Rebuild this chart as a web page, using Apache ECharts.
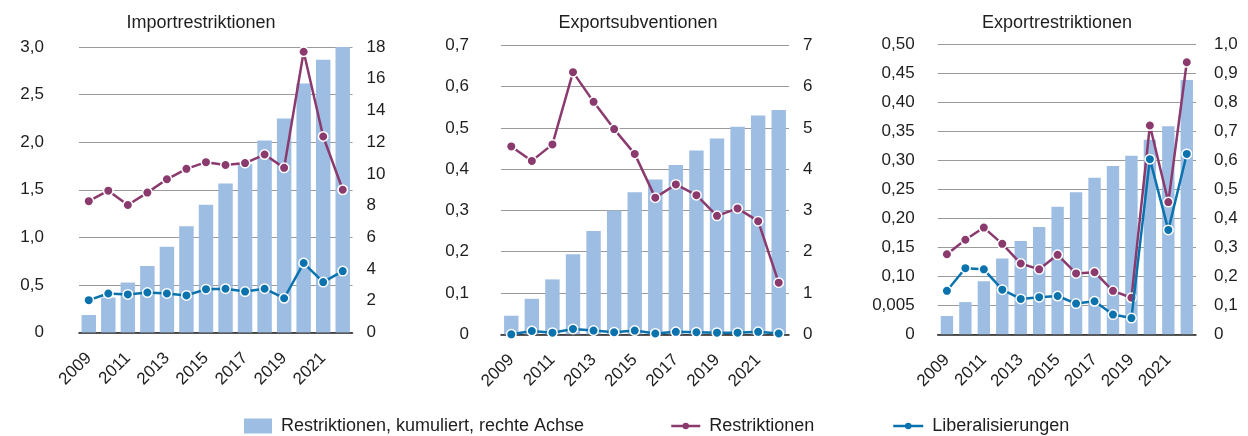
<!DOCTYPE html>
<html>
<head>
<meta charset="utf-8">
<script src="https://cdn.jsdelivr.net/npm/echarts@6/dist/echarts.min.js"></script>
<style>
html,body{margin:0;padding:0;background:#fff;}
#chart{width:1248px;height:436px;}
</style>
</head>
<body>
<div id="chart"></div>
<script>
const years = ['2009','2010','2011','2012','2013','2014','2015','2016','2017','2018','2019','2020','2021','2022'];

// Importrestriktionen
const impCum = [1.1, 2.2, 3.15, 4.2, 5.4, 6.7, 8.05, 9.4, 10.6, 12.1, 13.5, 15.7, 17.2, 18.0];
const impRes = [1.38, 1.49, 1.34, 1.47, 1.61, 1.72, 1.79, 1.76, 1.78, 1.87, 1.73, 2.95, 2.06, 1.50];
const impLib = [0.34, 0.41, 0.40, 0.42, 0.41, 0.39, 0.455, 0.46, 0.43, 0.46, 0.36, 0.73, 0.53, 0.645];

// Exportsubventionen
const subCum = [0.45, 0.86, 1.33, 1.94, 2.5, 3.0, 3.44, 3.75, 4.1, 4.45, 4.74, 5.03, 5.3, 5.43];
const subRes = [0.455, 0.42, 0.46, 0.635, 0.563, 0.497, 0.437, 0.331, 0.363, 0.337, 0.287, 0.305, 0.274, 0.125];
const subLib = [0.0, 0.008, 0.004, 0.013, 0.009, 0.005, 0.009, 0.002, 0.006, 0.005, 0.004, 0.004, 0.006, 0.002];

// Exportrestriktionen
const expCum = [0.063, 0.111, 0.183, 0.261, 0.322, 0.37, 0.44, 0.49, 0.54, 0.58, 0.616, 0.671, 0.717, 0.877];
const expRes = [0.138, 0.163, 0.184, 0.156, 0.122, 0.112, 0.137, 0.105, 0.107, 0.075, 0.063, 0.36, 0.228, 0.469];
const expLib = [0.075, 0.114, 0.112, 0.077, 0.061, 0.064, 0.066, 0.053, 0.057, 0.034, 0.028, 0.302, 0.18, 0.311];

// Tick labels
const impLeftTicks = ['0','0,5','1,0','1,5','2,0','2,5','3,0'];
const impRightTicks = ['0','2','4','6','8','10','12','14','16','18'];
const subLeftTicks = ['0','0,1','0,2','0,3','0,4','0,5','0,6','0,7'];
const subRightTicks = ['0','1','2','3','4','5','6','7'];
const expLeftTicks = ['0','0,005','0,10','0,15','0,20','0,25','0,30','0,35','0,40','0,45','0,50'];
const expRightTicks = ['0','0,1','0,2','0,3','0,4','0,5','0,6','0,7','0,8','0,9','1,0'];

const titles = ['Importrestriktionen','Exportsubventionen','Exportrestriktionen'];
const legendNames = ['Restriktionen, kumuliert, rechte Achse','Restriktionen','Liberalisierungen'];

const FONT = '"Liberation Sans", Arial, Helvetica, sans-serif';
const BAR = '#9dbde3';
const PURPLE = '#8b3a6e';
const BLUE = '#0a72ad';
const TXT = '#1e1e1e';

const grids = [
  {left: 79, top: 47, width: 273.5, height: 285.5},
  {left: 501, top: 45.3, width: 288, height: 289},
  {left: 937.7, top: 44.3, width: 258.3, height: 290}
];
const axes = [
  {lmax: 3, lint: 0.5, lt: impLeftTicks, rmax: 18, rint: 2, rt: impRightTicks, lm: 35, rm: 14},
  {lmax: 0.7, lint: 0.1, lt: subLeftTicks, rmax: 7, rint: 1, rt: subRightTicks, lm: 32, rm: 14},
  {lmax: 0.5, lint: 0.05, lt: expLeftTicks, rmax: 1, rint: 0.1, rt: expRightTicks, lm: 23, rm: 18}
];
const data = [
  [impCum, impRes, impLib],
  [subCum, subRes, subLib],
  [expCum, expRes, expLib]
];
const gaps = ['26%','30%','33%'];

const xAxis = [], yAxis = [], series = [];
for (let g = 0; g < 3; g++) {
  xAxis.push({
    type: 'category', gridIndex: g, data: years, boundaryGap: true,
    axisLine: {show: true, lineStyle: {color: '#222', width: 1.5}},
    axisTick: {show: false},
    axisLabel: {interval: 1, rotate: 45, margin: 23, fontSize: 17, color: TXT, fontFamily: FONT}
  });
  const a = axes[g];
  yAxis.push({
    type: 'value', gridIndex: g, position: 'left', min: 0, max: a.lmax, interval: a.lint,
    axisLine: {show: false}, axisTick: {show: false},
    splitLine: {show: true, lineStyle: {color: '#9a9a9a', width: 1}},
    axisLabel: {margin: a.lm, fontSize: 17, color: TXT, fontFamily: FONT,
      formatter: (v, i) => a.lt[i]}
  });
  yAxis.push({
    type: 'value', gridIndex: g, position: 'right', min: 0, max: a.rmax, interval: a.rint,
    axisLine: {show: false}, axisTick: {show: false}, splitLine: {show: false},
    axisLabel: {margin: a.rm, fontSize: 17, color: TXT, fontFamily: FONT,
      formatter: (v, i) => a.rt[i]}
  });
  series.push({
    name: legendNames[0], type: 'bar', xAxisIndex: g, yAxisIndex: g * 2 + 1,
    data: data[g][0], barCategoryGap: gaps[g], itemStyle: {color: BAR}, silent: true
  });
  series.push({
    name: legendNames[1], type: 'line', xAxisIndex: g, yAxisIndex: g * 2,
    data: data[g][1], symbol: 'circle', symbolSize: 9.5, showAllSymbol: true,
    lineStyle: {color: PURPLE, width: 2.5},
    itemStyle: {color: PURPLE, borderColor: '#fff', borderWidth: 1.5}, z: 3, silent: true
  });
  series.push({
    name: legendNames[2], type: 'line', xAxisIndex: g, yAxisIndex: g * 2,
    data: data[g][2], symbol: 'circle', symbolSize: 9.5, showAllSymbol: true,
    lineStyle: {color: BLUE, width: 2.5},
    itemStyle: {color: BLUE, borderColor: '#fff', borderWidth: 1.5}, z: 4, silent: true
  });
}

const titleCenters = [196, 633, 1052];
const title = titles.map((t, i) => ({
  text: t, left: titleCenters[i], top: 9, textAlign: 'center',
  textStyle: {fontSize: 18, fontWeight: 'normal', color: TXT, fontFamily: FONT}
}));

const legStyle = {fontSize: 18, color: TXT, fontFamily: FONT, padding: [0, 0, 0, 4]};
const legend = [
  {data: [legendNames[0]], left: 239, top: 412, itemWidth: 28, itemHeight: 15, selectedMode: false,
   icon: 'rect', textStyle: legStyle, itemStyle: {borderWidth: 0}},
  {data: [legendNames[1]], left: 665, top: 412, itemWidth: 29, itemHeight: 8, selectedMode: false,
   textStyle: legStyle, itemStyle: {borderWidth: 0}, lineStyle: {width: 2.5}},
  {data: [legendNames[2]], left: 887, top: 412, itemWidth: 30, itemHeight: 8, selectedMode: false,
   textStyle: legStyle, itemStyle: {borderWidth: 0}, lineStyle: {width: 2.5}}
];

const chart = echarts.init(document.getElementById('chart'), null, {renderer: 'canvas'});
chart.setOption({
  animation: false,
  backgroundColor: '#fff',
  textStyle: {fontFamily: FONT},
  title, legend, grid: grids, xAxis, yAxis, series
});
</script>
</body>
</html>
